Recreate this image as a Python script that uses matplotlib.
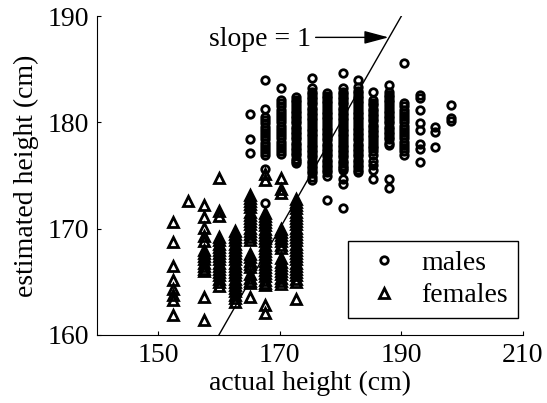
import matplotlib
matplotlib.use("Agg")
import matplotlib.pyplot as plt

# ----------------------------
# DATA (actual height columns in cm, estimated heights per column)
# ----------------------------
male_actual = [165.1, 167.64, 170.18, 172.72, 175.26, 177.8, 180.34,
               182.88, 185.42, 187.96, 190.5, 193.04, 195.58, 198.12]
male_estimated = [
    [180.8, 178.4, 177.1],
    [184.0, 181.3, 180.5, 180.2, 179.9, 179.6, 179.3, 179.0, 178.7, 178.4,
     178.1, 177.8, 177.5, 177.2, 176.9, 175.6, 172.4],
    [183.2, 182.1, 181.8, 181.5, 181.2, 180.9, 180.6, 180.3, 180.0, 179.7,
     179.4, 179.1, 178.8, 178.5, 178.2, 177.9, 177.6, 177.3, 177.0],
    [182.4, 182.1, 181.9, 181.6, 181.4, 181.1, 180.9, 180.6, 180.4, 180.1,
     179.9, 179.6, 179.4, 179.1, 178.9, 178.6, 178.4, 178.1, 177.9, 177.6,
     177.4, 177.1, 176.9, 176.6, 176.4, 176.2],
    [184.2, 183.2, 182.9, 182.7, 182.4, 182.2, 181.9, 181.7, 181.4, 181.2,
     180.9, 180.7, 180.4, 180.2, 179.9, 179.7, 179.4, 179.2, 178.9, 178.7,
     178.4, 178.2, 177.9, 177.7, 177.4, 177.2, 176.9, 176.7, 176.4, 176.2,
     175.9, 175.7, 175.4, 175.2, 174.9, 174.6],
    [182.8, 182.5, 182.3, 182.0, 181.8, 181.5, 181.3, 181.0, 180.8, 180.5,
     180.3, 180.0, 179.8, 179.5, 179.3, 179.0, 178.8, 178.5, 178.3, 178.0,
     177.8, 177.5, 177.3, 177.0, 176.8, 176.5, 176.3, 176.0, 175.8, 175.5,
     175.3, 175.0, 172.7],
    [184.6, 183.2, 182.9, 182.7, 182.4, 182.2, 181.9, 181.7, 181.4, 181.2,
     180.9, 180.7, 180.4, 180.2, 179.9, 179.7, 179.4, 179.2, 178.9, 178.7,
     178.4, 178.2, 177.9, 177.7, 177.4, 177.2, 176.9, 176.7, 176.4, 176.2,
     175.9, 175.7, 175.5, 174.7, 174.2, 171.9],
    [184.0, 183.3, 183.0, 182.8, 182.5, 182.3, 182.0, 181.8, 181.5, 181.3,
     181.0, 180.8, 180.5, 180.3, 180.0, 179.8, 179.5, 179.3, 179.0, 178.8,
     178.5, 178.3, 178.0, 177.8, 177.5, 177.3, 177.0, 176.8, 176.5, 176.3,
     176.0, 175.8, 175.5, 175.3],
    [182.9, 182.1, 181.8, 181.6, 181.3, 181.1, 180.8, 180.6, 180.3, 180.1,
     179.8, 179.6, 179.3, 179.1, 178.8, 178.6, 178.3, 178.1, 177.8, 177.6,
     177.3, 176.9, 176.4, 176.0, 175.5, 174.7],
    [183.5, 182.9, 182.6, 182.4, 182.1, 181.9, 181.6, 181.4, 181.1, 180.9,
     180.6, 180.4, 180.1, 179.9, 179.6, 179.4, 179.1, 178.9, 178.6, 178.4,
     178.1, 177.9, 174.7, 173.8],
    [185.6, 181.8, 181.5, 181.2, 180.9, 180.6, 180.3, 180.0, 179.7, 179.4,
     179.1, 178.8, 178.5, 178.2, 177.9, 177.6, 177.3, 176.9],
    [182.6, 182.3, 181.2, 179.9, 179.3, 178.0, 177.5, 176.3],
    [179.6, 179.1, 177.7],
    [181.6, 180.4, 180.1],
]

female_actual = [152.4, 154.94, 157.48, 160.02, 162.56, 165.1, 167.64,
                 170.18, 172.72]
female_estimated = [
    [170.6, 168.7, 166.5, 165.2, 164.3, 163.8, 163.3, 161.9],
    [172.6],
    [172.2, 171.1, 170.1, 169.3, 168.8, 168.0, 167.7, 167.4, 167.1, 166.8,
     166.5, 166.2, 166.0, 163.6, 161.4],
    [174.8, 171.7, 171.2, 169.2, 168.9, 168.6, 168.3, 168.0, 167.7, 167.4,
     167.1, 166.8, 166.5, 166.2, 165.9, 165.6, 165.3, 165.0, 164.6],
    [169.8, 169.5, 169.2, 168.9, 168.6, 168.3, 168.0, 167.7, 167.4, 167.1,
     166.8, 166.5, 166.2, 165.9, 165.6, 165.3, 165.0, 164.7, 164.4, 164.1,
     163.8, 163.5, 163.1],
    [173.2, 172.9, 172.6, 172.3, 172.0, 171.6, 171.3, 171.0, 170.7, 170.4,
     170.1, 169.8, 169.5, 169.2, 168.9, 167.6, 167.3, 167.0, 166.7, 166.4,
     165.7, 165.4, 165.1, 164.9, 163.6],
    [175.1, 174.6, 171.5, 171.2, 170.9, 170.6, 170.3, 170.0, 169.7, 169.4,
     169.1, 168.8, 168.5, 168.2, 167.9, 167.6, 167.3, 167.0, 166.7, 166.4,
     166.1, 165.8, 165.5, 165.2, 164.9, 164.7, 162.8, 162.1],
    [174.8, 173.7, 173.4, 170.0, 169.7, 169.4, 169.1, 168.8, 168.5, 168.2,
     167.2, 166.9, 166.6, 166.3, 166.0, 165.7, 165.4, 165.1, 164.8],
    [172.8, 172.5, 172.2, 171.9, 171.6, 171.3, 171.0, 170.7, 170.4, 170.1,
     169.8, 169.5, 169.2, 168.9, 168.6, 168.3, 168.0, 167.7, 167.4, 167.1,
     166.8, 166.5, 166.2, 165.9, 165.6, 165.3, 165.0, 163.4],
]

x_ticks = [150, 170, 190, 210]
y_ticks = [160, 170, 180, 190]
identity_line = [160, 190]


def flatten(cols, values):
    xs, ys = [], []
    for x, col in zip(cols, values):
        xs += [x] * len(col)
        ys += col
    return xs, ys


mx, my = flatten(male_actual, male_estimated)
fx, fy = flatten(female_actual, female_estimated)

# ----------------------------
# PLOT
# ----------------------------
plt.rcParams["font.family"] = ["Liberation Serif", "DejaVu Serif"]
plt.rcParams["font.size"] = 20

fig = plt.figure(figsize=(5.47, 4.03), dpi=100)
ax = fig.add_axes([0.178, 0.169, 0.778, 0.791])

ax.plot(mx, my, linestyle="none", marker="o", ms=5.4, mew=2.0,
        mfc="none", mec="k", label="males")
ax.plot(fx, fy, linestyle="none", marker="^", ms=7.2, mew=2.0,
        mfc="none", mec="k", label="females")
ax.plot(identity_line, identity_line, color="k", lw=1.0)

ax.annotate("", xy=(187.9, 188.0), xytext=(175.9, 188.0),
            arrowprops=dict(arrowstyle="-|>,head_length=0.75,head_width=0.2",
                            color="k", lw=1.0, shrinkA=0, shrinkB=0))
ax.text(158.4, 187.8, "slope = 1", va="center", ha="left")

ax.set_xlim(140, 210)
ax.set_ylim(160, 190)
ax.set_xticks(x_ticks)
ax.set_yticks(y_ticks)
ax.tick_params(direction="in", length=3, width=0.8, pad=6)
for side in ["top", "right"]:
    ax.spines[side].set_visible(False)
for side in ["left", "bottom"]:
    ax.spines[side].set_linewidth(0.8)

ax.set_xlabel("actual height (cm)", labelpad=2)
ax.set_ylabel("estimated height (cm)", labelpad=6)

leg = ax.legend(loc="lower right", bbox_to_anchor=(0.988, 0.053),
                borderaxespad=0, fancybox=False, edgecolor="k",
                framealpha=1, borderpad=0.35, handlelength=1.9,
                handletextpad=0.4, labelspacing=0.25)
leg.get_frame().set_linewidth(1.0)

plt.savefig("out.png", dpi=100)
